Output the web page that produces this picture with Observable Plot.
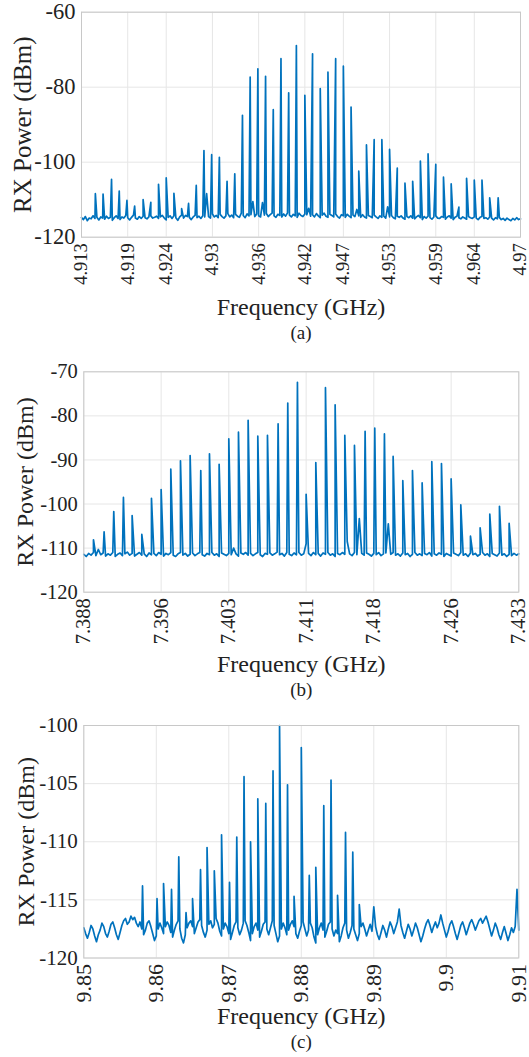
<!DOCTYPE html>
<html>
<head>
<meta charset="utf-8">
<script src="https://cdn.jsdelivr.net/npm/d3@7"></script>
<script src="https://cdn.jsdelivr.net/npm/@observablehq/plot@0.6"></script>
<style>
  html, body { margin: 0; padding: 0; background: #fff; }
  #chart { width: 529px; height: 1057px; overflow: hidden; }
  #chart svg { display: block; }
</style>
</head>
<body>
<div id="chart"></div>
<script>
// ---------- Panel (a) ----------
const xTicksA = [4.913, 4.919, 4.924, 4.93, 4.936, 4.942, 4.947, 4.953, 4.959, 4.964, 4.97];
const yTicksA = [-120, -100, -80, -60];
const peakFreqA = [4.9148,4.9158,4.9169,4.9179,4.9189,4.9199,4.9210,4.9220,4.9230,4.9240,4.9250,4.9260,4.9269,4.9279,4.9289,4.9299,4.9309,4.9319,4.9329,4.9339,4.9349,4.9359,4.9369,4.9379,4.9389,4.9399,4.9409,4.9420,4.9430,4.9440,4.9450,4.9460,4.9470,4.9480,4.9490,4.9500,4.9510,4.9520,4.9530,4.9540,4.9550,4.9560,4.9570,4.9580,4.9590,4.9600,4.9610,4.9620,4.9630,4.9640,4.9650,4.9660,4.9671];
const peakDbA = [-108.4,-108.5,-104.6,-107.7,-110.2,-111.7,-110.0,-110.7,-105.9,-104.2,-108.3,-112.4,-111.0,-106.2,-96.9,-98.0,-98.7,-105.1,-103.1,-87.5,-77.3,-75.1,-77.1,-86.0,-72.4,-81.5,-68.9,-82.2,-71.1,-80.4,-76.0,-72.4,-74.4,-85.3,-102.4,-95.4,-94.0,-94.0,-96.6,-101.6,-105.6,-105.1,-99.7,-97.8,-100.6,-104.0,-105.8,-112.0,-104.3,-104.8,-104.8,-109.5,-109.5];
const floorStartA = 4.913, floorStepA = 0.00025;
const floorDbA = [
-114.8,-115.3,-114.5,-115.6,-114.9,-115.1,-114.3,-115.0,-114.7,-115.4,
-114.6,-114.9,-115.2,-114.4,-115.0,-114.7,-115.5,-114.8,-114.3,-115.0,
-115.3,-114.6,-114.9,-114.2,-114.8,-115.4,-114.7,-114.1,-114.9,-115.2,
-114.5,-115.0,-114.4,-114.8,-115.1,-114.6,-114.3,-114.9,-114.7,-114.4,
-115.0,-114.6,-114.2,-114.9,-115.4,-114.7,-114.3,-115.0,-114.3,-114.8,
-115.5,-114.6,-114.1,-114.9,-114.2,-114.5,-114.7,-115.3,-114.6,-114.2,
-114.8,-114.4,-115.0,-114.3,-114.6,-108.4,-114.5,-114.9,-113.8,-114.6,
-114.2,-114.8,-113.9,-114.5,-114.9,-114.3,-113.7,-114.6,-114.1,-114.8,
-113.9,-114.4,-114.7,-113.6,-114.2,-114.8,-113.8,-114.3,-114.0,-110.5,
-114.5,-113.8,-114.3,-114.6,-110.8,-114.1,-113.7,-114.5,-114.0,-113.6,
-114.3,-114.7,-113.9,-114.2,-114.6,-113.8,-114.4,-113.5,-114.1,-114.6,
-113.9,-114.3,-114.7,-113.6,-114.2,-114.5,-113.8,-114.0,-112.3,-114.4,
-114.0,-114.6,-113.7,-114.3,-114.8,-114.1,-113.6,-114.4,-114.7,-113.9,
-114.2,-114.6,-113.8,-114.5,-114.9,-114.0,-114.3,-114.7,-113.9,-114.4,
-114.8,-114.1,-114.5,-112.6,-114.3,-114.7,-114.0,-114.6,-114.9,-114.2,
-114.5,-114.8,-114.1,-114.6,-115.0,-114.3,-114.7,-114.4,-114.9,-111.9,
-114.6,-114.2,-114.8,-115.1,-114.4,-114.7,-114.3,-114.9,-115.2,-114.5,
-114.8,-114.3,-114.9,-115.1,-114.6,-114.2,-114.8,-115.3,-114.5,-114.9,
-114.4,-114.8,-115.2,-114.6,-114.3,-114.9,-115.0,-114.5,-114.7,-115.2,
-114.6,-114.3,-114.9,-115.3,-114.7,-114.4,-114.8,-115.1,-114.6,-114.9,
-115.2,-114.5,-114.8,-115.0,-114.6,-114.9,-115.3,-114.7,-114.5,-115.0,
-114.8,-115.2,-114.6,-114.9,-115.4,-114.8,-115.1,-114.7,-115.3,-115.0,
-115.5,-114.9,-115.3,-115.6,-115.0,-115.4,-114.8,-115.3,-115.1];

// ---------- Panel (b) ----------
const xTicksB = [7.388, 7.396, 7.403, 7.411, 7.418, 7.426, 7.433];
const yTicksB = [-120, -110, -100, -90, -80, -70];
const peakFreqB = [7.3890,7.3901,7.3911,7.3921,7.3930,7.3940,7.3950,7.3960,7.3970,7.3980,7.3990,7.4001,7.4010,7.4020,7.4030,7.4040,7.4050,7.4060,7.4070,7.4081,7.4091,7.4101,7.4110,7.4120,7.4130,7.4140,7.4150,7.4160,7.4171,7.4181,7.4191,7.4200,7.4210,7.4220,7.4230,7.4240,7.4250,7.4260,7.4270,7.4280,7.4290,7.4300,7.4310,7.4320];
const peakDbB = [-108.1,-106.3,-101.7,-98.5,-102.6,-106.9,-98.7,-96.7,-92.1,-90.2,-89.0,-92.4,-88.6,-91.0,-85.2,-83.7,-81.0,-84.6,-84.4,-81.8,-77.1,-72.4,-97.8,-90.6,-73.6,-77.5,-84.4,-86.7,-83.5,-82.8,-84.1,-89.2,-94.7,-92.4,-95.2,-90.4,-90.8,-94.3,-100.2,-107.3,-105.4,-102.3,-100.5,-104.4];
const floorStartB = 7.388, floorStepB = 0.00025;
const floorDbB = [
-111.4,-111.9,-111.2,-111.6,-111.0,-111.7,-110.3,-111.5,-111.1,-111.8,
-111.3,-111.6,-111.0,-111.9,-111.4,-111.1,-111.7,-111.3,-110.9,-111.6,
-111.2,-111.8,-111.4,-111.0,-111.6,-111.3,-111.9,-111.1,-111.5,-111.2,
-111.7,-111.0,-111.4,-111.8,-111.2,-111.5,-111.0,-111.6,-111.9,-111.3,
-111.0,-111.6,-111.2,-111.8,-111.4,-111.1,-111.7,-111.3,-111.0,-111.5,
-111.8,-111.2,-111.5,-111.0,-111.6,-111.3,-111.9,-111.1,-111.4,-111.7,
-111.2,-111.5,-110.0,-111.3,-111.8,-111.1,-111.4,-111.0,-111.6,-111.2,
-111.7,-111.3,-111.0,-111.5,-111.9,-111.2,-111.4,-111.1,-111.6,-111.3,
-110.9,-111.5,-111.2,-111.8,-111.0,-111.4,-111.7,-111.1,-111.5,-111.0,
-111.6,-111.3,-109.0,-111.2,-111.7,-111.0,-111.5,-111.2,-111.8,-111.1,
-111.4,-111.0,-111.6,-111.3,-111.9,-111.2,-111.5,-111.0,-111.4,-108.5,
-111.3,-111.7,-111.0,-111.5,-103.3,-111.2,-111.6,-111.1,-111.4,-111.8,
-111.2,-111.5,-111.0,-111.7,-111.3,-111.1,-104.5,-111.4,-111.0,-111.6,
-111.3,-111.8,-111.1,-111.5,-111.2,-111.9,-111.4,-111.0,-111.6,-111.3,
-111.7,-111.2,-111.5,-111.0,-111.8,-111.3,-111.6,-111.1,-111.4,-111.9,
-111.2,-111.5,-111.8,-111.1,-111.4,-111.7,-111.0,-111.6,-111.3,-111.9,
-111.1,-111.5,-111.2,-111.8,-111.4,-111.0,-111.6,-111.3,-111.9,-111.2,
-111.5,-111.8,-111.1,-111.6,-111.3,-111.9,-111.4,-111.7,-111.2,-111.6,
-111.3];

// ---------- Panel (c) ----------
const xTicksC = [9.85, 9.86, 9.87, 9.88, 9.89, 9.9, 9.91];
const yTicksC = [-120, -115, -110, -105, -100];
const peakFreqC = [9.8581,9.8601,9.8610,9.8621,9.8631,9.8641,9.8650,9.8661,9.8670,9.8680,9.8690,9.8701,9.8711,9.8721,9.8730,9.8740,9.8751,9.8761,9.8770,9.8781,9.8790,9.8800,9.8811,9.8820,9.8831,9.8841,9.8850,9.8861,9.8871,9.8880];
const peakDbC = [-113.8,-114.9,-113.6,-114.1,-111.3,-116.1,-114.9,-112.4,-110.5,-112.5,-109.4,-113.5,-109.6,-104.4,-110.0,-106.3,-106.7,-103.9,-100.0,-105.1,-114.7,-101.9,-112.9,-112.2,-106.9,-104.7,-114.6,-109.2,-110.9,-115.4];
const floorStartC = 9.85, floorStepC = 0.00025;
const floorDbC = [
-117.4,-117.9,-118.3,-117.8,-117.2,-117.5,-118.1,-118.6,-118.0,-117.6,
-117.0,-117.3,-117.9,-118.2,-117.7,-117.1,-116.9,-117.4,-118.0,-118.4,
-117.8,-117.2,-116.8,-116.6,-117.1,-116.9,-116.4,-116.7,-116.5,-117.0,
-117.3,-116.9,-117.5,-118.0,-117.6,-117.0,-116.8,-117.3,-117.9,-118.5,
-118.1,-117.5,-117.0,-117.4,-117.9,-117.3,-116.9,-117.2,-117.8,-118.2,
-117.6,-117.1,-116.8,-117.5,-118.3,-118.7,-118.0,-117.4,-117.0,-116.8,
-117.3,-117.9,-117.4,-116.9,-116.7,-117.2,-117.8,-118.2,-117.6,-117.1,
-116.8,-117.4,-117.1,-116.6,-117.0,-117.7,-118.1,-117.5,-117.0,-117.3,
-117.9,-118.4,-117.8,-117.2,-116.9,-117.4,-118.0,-117.6,-117.0,-116.8,
-117.2,-117.8,-118.5,-117.9,-117.3,-117.0,-117.6,-118.2,-117.7,-117.1,
-116.9,-117.5,-118.0,-117.4,-116.8,-117.2,-117.9,-118.6,-118.1,-117.5,
-117.0,-117.4,-118.0,-117.6,-117.1,-116.8,-117.3,-117.9,-118.3,-117.7,
-117.2,-116.9,-117.5,-118.1,-117.6,-117.0,-117.4,-118.2,-118.7,-118.0,
-117.4,-117.0,-117.6,-118.2,-117.7,-117.1,-116.9,-117.5,-118.1,-117.6,
-117.9,-118.6,-118.1,-117.4,-117.0,-117.6,-118.3,-117.8,-117.2,-117.5,
-118.0,-118.5,-117.9,-117.3,-117.0,-117.5,-118.1,-117.6,-117.1,-117.7,
-115.6,-117.3,-118.0,-118.4,-117.8,-117.2,-117.6,-118.2,-117.5,-116.9,
-117.3,-117.9,-117.4,-116.9,-115.8,-117.2,-117.8,-118.3,-117.7,-117.1,
-117.5,-118.1,-117.6,-117.0,-117.4,-118.0,-118.6,-118.1,-117.5,-117.0,
-116.7,-117.2,-117.8,-117.3,-116.9,-117.4,-117.0,-116.3,-117.0,-117.6,
-118.2,-117.7,-117.1,-116.8,-117.3,-117.9,-118.4,-117.8,-117.2,-116.9,
-117.4,-118.0,-117.5,-117.0,-116.7,-117.1,-117.6,-117.2,-116.8,-116.6,
-117.0,-116.7,-116.4,-116.9,-117.5,-118.1,-117.6,-117.0,-117.4,-118.0,
-118.4,-117.8,-117.3,-117.9,-118.5,-118.0,-117.4,-117.8,-117.3,-114.1,
-117.6];

const captions = ["(a)", "(b)", "(c)"];
const xLabel = "Frequency (GHz)";
const yLabel = "RX Power (dBm)";

function trace(start, step, floor, pf, pd) {
  const pts = floor.map((v, i) => ({f: start + i * step, db: v}));
  pf.forEach((f, i) => pts.push({f, db: pd[i]}));
  pts.sort((a, b) => a.f - b.f);
  return pts;
}

const FONT = "'Liberation Serif', 'Times New Roman', serif";
const TXT = "#222";

function panel(cfg) {
  const data = trace(cfg.fs, cfg.step, cfg.floor, cfg.pf, cfg.pd);
  return Plot.plot({
    width: 529,
    height: cfg.height,
    marginLeft: cfg.ml, marginRight: cfg.mr, marginTop: cfg.mt, marginBottom: cfg.mb,
    style: {fontFamily: FONT, fontSize: "20px", color: TXT, background: "white", overflow: "visible"},
    x: {domain: cfg.xd},
    y: {domain: cfg.yd},
    marks: [
      Plot.gridX(cfg.xt, {stroke: "#e6e6e6", strokeOpacity: 1, strokeWidth: 1}),
      Plot.gridY(cfg.yt, {stroke: "#e6e6e6", strokeOpacity: 1, strokeWidth: 1}),
      Plot.line(data, {x: "f", y: "db", stroke: "#0072BD", strokeWidth: 1.7}),
      Plot.frame({stroke: "#c8c8c8", strokeWidth: 1}),
      Plot.axisX(cfg.xt, {tickRotate: -90, tickSize: 0, tickPadding: 6, tickFormat: d => String(d), label: null, fill: TXT, fontSize: cfg.xfs}),
      Plot.axisY(cfg.yt, {tickSize: 0, tickPadding: 6, tickFormat: d => String(d), label: null, fill: TXT, fontSize: cfg.yfs}),
      Plot.text([yLabel], {frameAnchor: "left", dx: cfg.ylx - cfg.ml, rotate: -90, textAnchor: "middle", lineAnchor: "middle", fontSize: cfg.ylfs, fill: TXT}),
      Plot.text([xLabel], {frameAnchor: "bottom", dy: cfg.xly, textAnchor: "middle", lineAnchor: "middle", fontSize: 24, fill: TXT}),
      Plot.text([cfg.cap], {frameAnchor: "bottom", dy: cfg.capy, textAnchor: "middle", lineAnchor: "middle", fontSize: 19, fill: TXT})
    ]
  });
}

const root = document.getElementById("chart");
root.append(panel({
  height: 350, ml: 81, mr: 9, mt: 11.7, mb: 113.3,
  xd: [4.913, 4.97], yd: [-120, -60], xt: xTicksA, yt: yTicksA,
  fs: floorStartA, step: floorStepA, floor: floorDbA, pf: peakFreqA, pd: peakDbA,
  xfs: 18.5, yfs: 22.5, ylfs: 25,
  ylx: 22.5, xly: 70, capy: 96, cap: captions[0]
}));
root.append(panel({
  height: 350, ml: 83.3, mr: 10.7, mt: 21.3, mb: 108.3,
  xd: [7.388, 7.433], yd: [-120, -70], xt: xTicksB, yt: yTicksB,
  fs: floorStartB, step: floorStepB, floor: floorDbB, pf: peakFreqB, pd: peakDbB,
  xfs: 20.5, yfs: 20.5, ylfs: 24,
  ylx: 25, xly: 72, capy: 98, cap: captions[1]
}));
root.append(panel({
  height: 357, ml: 83.3, mr: 10.7, mt: 25, mb: 99.5,
  xd: [9.85, 9.91], yd: [-120, -100], xt: xTicksC, yt: yTicksC,
  fs: floorStartC, step: floorStepC, floor: floorDbC, pf: peakFreqC, pd: peakDbC,
  xfs: 22, yfs: 21, ylfs: 24,
  ylx: 26, xly: 58, capy: 84, cap: captions[2]
}));
</script>
</body>
</html>
